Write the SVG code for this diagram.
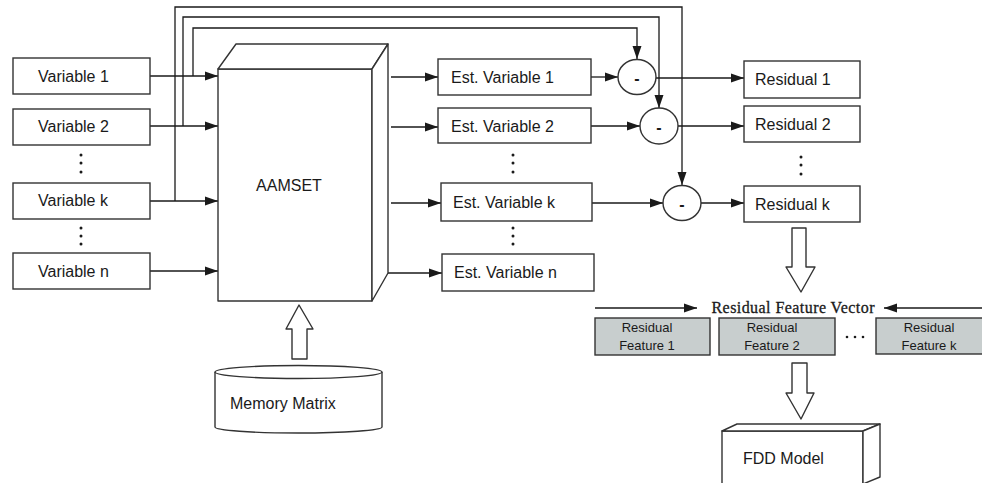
<svg xmlns="http://www.w3.org/2000/svg" width="982" height="483" viewBox="0 0 982 483">
<defs>
<marker id="ah" markerUnits="userSpaceOnUse" markerWidth="14" markerHeight="10" refX="13" refY="5" orient="auto">
<path d="M0,0.5 L13,5 L0,9.5 Z" fill="#1a1a1a"/>
</marker>
</defs>
<style>
.box{fill:#fff;stroke:#333;stroke-width:1.4}
.shape{fill:#fff;stroke:#333;stroke-width:1.4;stroke-linejoin:round}
.feat{fill:#c8cece;stroke:#333;stroke-width:1.4}
.ln{fill:none;stroke:#1a1a1a;stroke-width:1.3}
.arr{fill:none;stroke:#1a1a1a;stroke-width:1.3;marker-end:url(#ah)}
.t{font-family:"Liberation Sans",Arial,sans-serif;font-size:16px;fill:#1a1a1a}
.m{font-family:"Liberation Sans",Arial,sans-serif;font-size:16px;font-weight:bold;fill:#1a1a1a;text-anchor:middle}
.ts{font-family:"Liberation Sans",Arial,sans-serif;font-size:13px;fill:#1a1a1a;text-anchor:middle}
.ser{font-family:"Liberation Serif","Times New Roman",serif;font-size:16px;fill:#1a1a1a;stroke:#1a1a1a;stroke-width:0.3}
.dot{fill:#1a1a1a}
</style>
<g id="connectors">
<line class="arr" x1="150" y1="76" x2="218" y2="76"/>
<line class="arr" x1="150" y1="126" x2="218" y2="126"/>
<line class="arr" x1="150" y1="201" x2="218" y2="201"/>
<line class="arr" x1="150" y1="271" x2="218" y2="271"/>
<polyline class="arr" points="193,76 193,28 637,28 637,59"/>
<polyline class="arr" points="183,126 183,17 659,17 659,108"/>
<polyline class="arr" points="175,201 175,7 682,7 682,185"/>
<line class="arr" x1="391" y1="77" x2="438" y2="77"/>
<line class="arr" x1="391" y1="127" x2="438" y2="127"/>
<line class="arr" x1="391" y1="203" x2="441" y2="203"/>
<line class="arr" x1="388" y1="273" x2="442" y2="273"/>
<line class="arr" x1="591" y1="77" x2="618" y2="77"/>
<line class="arr" x1="591" y1="126" x2="640" y2="126"/>
<line class="arr" x1="592" y1="203" x2="663" y2="203"/>
<line class="arr" x1="656" y1="78" x2="744" y2="78"/>
<line class="arr" x1="678" y1="126" x2="744" y2="126"/>
<line class="arr" x1="701" y1="203" x2="744" y2="203"/>
<line class="arr" x1="595" y1="308" x2="697" y2="308"/>
<line class="arr" x1="982" y1="308" x2="884" y2="308"/>
<path class="shape" d="M292,359 V329 H286 L299,305 L313,329 H307 V359 Z"/>
<path class="shape" d="M792,228 H806 V267 H815 L801,292 L786,267 H792 Z"/>
<path class="shape" d="M792,363 H807 V393 H814 L801,419 L786,393 H792 Z"/>
</g>
<g id="var1"><rect class="box" x="13" y="58" width="137" height="36"/><text class="t" x="38" y="82">Variable 1</text></g>
<g id="var2"><rect class="box" x="13" y="109" width="137" height="36"/><text class="t" x="38" y="132">Variable 2</text></g>
<g id="vark"><rect class="box" x="13" y="183" width="137" height="36"/><text class="t" x="38" y="206">Variable k</text></g>
<g id="varn"><rect class="box" x="13" y="253" width="137" height="36"/><text class="t" x="38" y="277">Variable n</text></g>
<g id="dots-left">
<circle class="dot" cx="81" cy="155" r="1.5"/><circle class="dot" cx="81" cy="163" r="1.5"/><circle class="dot" cx="81" cy="172" r="1.5"/>
<circle class="dot" cx="81" cy="228" r="1.5"/><circle class="dot" cx="81" cy="236" r="1.5"/><circle class="dot" cx="81" cy="244" r="1.5"/>
</g>
<g id="aamset">
<rect class="shape" x="218" y="69" width="154" height="232"/>
<polygon class="shape" points="218,69 236,44 388,44 372,69"/>
<polygon class="shape" points="372,69 388,44 388,273 372,301"/>
<text class="t" x="289" y="191" text-anchor="middle">AAMSET</text>
</g>
<g id="memory">
<path class="shape" d="M215,372 V427 A83.5,6 0 0 0 382,427 V372"/>
<ellipse class="shape" cx="298.5" cy="372" rx="83.5" ry="6.5"/>
<text class="t" x="230" y="409">Memory Matrix</text>
</g>
<g id="est1"><rect class="box" x="438" y="59" width="153" height="36"/><text class="t" x="451" y="83">Est. Variable 1</text></g>
<g id="est2"><rect class="box" x="438" y="108" width="153" height="35"/><text class="t" x="451" y="132">Est. Variable 2</text></g>
<g id="estk"><rect class="box" x="441" y="183" width="151" height="38"/><text class="t" x="453" y="208">Est. Variable k</text></g>
<g id="estn"><rect class="box" x="442" y="254" width="152" height="37"/><text class="t" x="454" y="278">Est. Variable n</text></g>
<g id="dots-mid">
<circle class="dot" cx="513" cy="155" r="1.5"/><circle class="dot" cx="513" cy="163" r="1.5"/><circle class="dot" cx="513" cy="172" r="1.5"/>
<circle class="dot" cx="513" cy="228" r="1.5"/><circle class="dot" cx="513" cy="236" r="1.5"/><circle class="dot" cx="513" cy="244" r="1.5"/>
</g>
<g id="sub1"><ellipse class="shape" cx="637" cy="77" rx="19" ry="17.5"/><text class="m" x="637" y="84">-</text></g>
<g id="sub2"><ellipse class="shape" cx="659" cy="126" rx="19" ry="18"/><text class="m" x="659" y="133">-</text></g>
<g id="subk"><ellipse class="shape" cx="682" cy="203" rx="19" ry="17.5"/><text class="m" x="682" y="210">-</text></g>
<g id="res1"><rect class="box" x="744" y="61" width="116" height="37"/><text class="t" x="755" y="85">Residual 1</text></g>
<g id="res2"><rect class="box" x="744" y="106" width="116" height="36"/><text class="t" x="755" y="130">Residual 2</text></g>
<g id="resk"><rect class="box" x="744" y="186" width="116" height="36"/><text class="t" x="755" y="210">Residual k</text></g>
<g id="dots-right">
<circle class="dot" cx="801" cy="157" r="1.5"/><circle class="dot" cx="801" cy="165" r="1.5"/><circle class="dot" cx="801" cy="174" r="1.5"/>
</g>
<g id="rfv"><text class="ser" x="793" y="313" text-anchor="middle" textLength="163">Residual Feature Vector</text></g>
<g id="feat1"><rect class="feat" x="595" y="318" width="115" height="37"/><text class="ts" x="647" y="332">Residual</text><text class="ts" x="647" y="350">Feature 1</text></g>
<g id="feat2"><rect class="feat" x="719" y="318" width="116" height="37"/><text class="ts" x="772" y="332">Residual</text><text class="ts" x="772" y="350">Feature 2</text></g>
<g id="featk"><rect class="feat" x="876" y="318" width="110" height="36"/><text class="ts" x="929" y="332">Residual</text><text class="ts" x="929" y="350">Feature k</text></g>
<g id="dots-feat">
<circle class="dot" cx="847" cy="337" r="1.3"/><circle class="dot" cx="855" cy="337" r="1.3"/><circle class="dot" cx="863" cy="337" r="1.3"/>
</g>
<g id="fdd">
<rect class="shape" x="722" y="431" width="141" height="60"/>
<polygon class="shape" points="722,431 737,424 880,424 863,431"/>
<polygon class="shape" points="863,431 880,424 880,477 863,484"/>
<text class="t" x="743" y="464">FDD Model</text>
</g>
</svg>
